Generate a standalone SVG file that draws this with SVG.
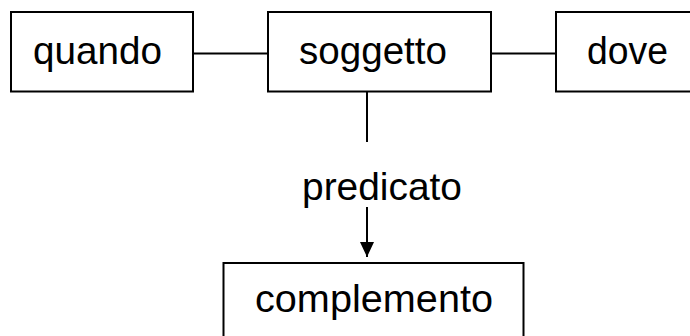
<svg xmlns="http://www.w3.org/2000/svg" width="690" height="336" viewBox="0 0 690 336">
<style>
.box{fill:#fff;stroke:#000;stroke-width:2}
.lbl{font-family:"Liberation Sans",Arial,sans-serif;font-size:38.5px;fill:#000}
.con{stroke:#000;stroke-width:2;fill:none}
</style>
<defs>
<marker id="arr" markerUnits="userSpaceOnUse" markerWidth="16" markerHeight="16" refX="15" refY="7" orient="auto">
<path d="M0,0 L15,7 L0,14 Z" fill="#000"/>
</marker>
</defs>
<rect width="690" height="336" fill="#fff"/>
<g id="connectors">
<line class="con" x1="193" y1="53.5" x2="268" y2="53.5"/>
<line class="con" x1="491" y1="53.5" x2="556" y2="53.5"/>
<line class="con" x1="367" y1="92" x2="367" y2="142"/>
<line class="con" x1="367" y1="207" x2="367" y2="257" marker-end="url(#arr)"/>
</g>
<g id="quando">
<rect class="box" x="11" y="12" width="182" height="79.5"/>
<text class="lbl" x="33" y="63.5" textLength="129" lengthAdjust="spacingAndGlyphs">quando</text>
</g>
<g id="soggetto">
<rect class="box" x="268" y="12" width="223" height="79.5"/>
<text class="lbl" x="299" y="63.5" textLength="148" lengthAdjust="spacingAndGlyphs">soggetto</text>
</g>
<g id="dove">
<rect class="box" x="556" y="12" width="150" height="79.5"/>
<text class="lbl" x="587" y="63.5" textLength="81" lengthAdjust="spacingAndGlyphs">dove</text>
</g>
<g id="predicato">
<text class="lbl" x="302" y="200" textLength="160" lengthAdjust="spacingAndGlyphs">predicato</text>
</g>
<g id="complemento">
<rect class="box" x="223.5" y="263" width="300" height="100"/>
<text class="lbl" x="255" y="312" textLength="238" lengthAdjust="spacingAndGlyphs">complemento</text>
</g>
</svg>
